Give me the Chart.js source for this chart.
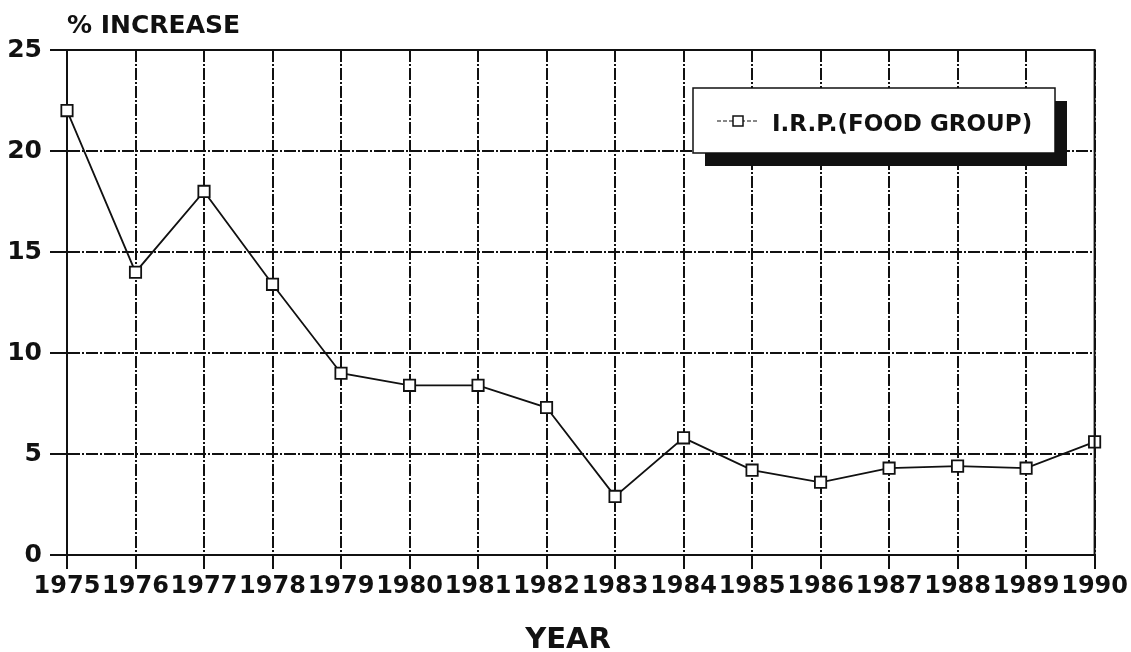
<!DOCTYPE html>
<html lang="en">
<head>
<meta charset="UTF-8">
<title>I.R.P. (Food Group) % increase</title>
<script src="https://cdn.jsdelivr.net/npm/chart.js"></script>
<style>
    html, body { margin: 0; padding: 0; background: #ffffff; }
    #wrap { position: relative; width: 1131px; height: 652px; }
</style>
</head>
<body>
<div id="wrap"><canvas id="irpChart"></canvas></div>
<script>
    // data
    const years = ['1975', '1976', '1977', '1978', '1979', '1980', '1981', '1982',
                   '1983', '1984', '1985', '1986', '1987', '1988', '1989', '1990'];
    const irpFood = [22.0, 14.0, 18.0, 13.4, 9.0, 8.4, 8.4, 7.3,
                     2.9, 5.8, 4.2, 3.6, 4.3, 4.4, 4.3, 5.6];
    const yTicks = [0, 5, 10, 15, 20, 25];
    const seriesLabel = 'I.R.P.(FOOD GROUP)';

    const FONT = "'DejaVu Sans', sans-serif";
    const INK = '#111111';

    // titles, frame and the boxed legend with its drop shadow
    const decorPlugin = {
        id: 'decor',
        afterDatasetsDraw(chart) {
            const { ctx, chartArea: a } = chart;
            ctx.save();
            // solid top and right frame
            ctx.strokeStyle = INK;
            ctx.lineWidth = 2;
            ctx.beginPath();
            ctx.moveTo(a.left, a.top);
            ctx.lineTo(a.right, a.top);
            ctx.lineTo(a.right, a.bottom);
            ctx.stroke();

            // legend box
            const bx = 693, by = 88, bw = 362, bh = 65;
            ctx.fillStyle = INK;
            ctx.fillRect(bx + 12, by + 13, bw, bh);
            ctx.fillStyle = '#ffffff';
            ctx.fillRect(bx, by, bw, bh);
            ctx.lineWidth = 1.5;
            ctx.strokeRect(bx, by, bw, bh);

            // legend sample: dashed line with square marker
            const ly = by + 33;
            ctx.setLineDash([4, 2]);
            ctx.lineWidth = 1.2;
            ctx.beginPath();
            ctx.moveTo(bx + 24, ly);
            ctx.lineTo(bx + 66, ly);
            ctx.stroke();
            ctx.setLineDash([]);
            ctx.fillStyle = '#ffffff';
            ctx.fillRect(bx + 40, ly - 5, 10, 10);
            ctx.lineWidth = 1.5;
            ctx.strokeRect(bx + 40, ly - 5, 10, 10);

            ctx.fillStyle = INK;
            ctx.font = 'bold 23px ' + FONT;
            ctx.textBaseline = 'middle';
            ctx.textAlign = 'left';
            ctx.fillText(seriesLabel, bx + 79, ly + 4);

            // axis titles
            ctx.font = 'bold 25px ' + FONT;
            ctx.textBaseline = 'alphabetic';
            ctx.fillText('% INCREASE', 67, 33);
            ctx.font = 'bold 29px ' + FONT;
            ctx.textAlign = 'center';
            ctx.fillText('YEAR', 568, 648);
            ctx.restore();
        }
    };

    const ctx = document.getElementById('irpChart').getContext('2d');
    new Chart(ctx, {
        type: 'line',
        data: {
            labels: years,
            datasets: [{
                label: seriesLabel,
                data: irpFood,
                borderColor: INK,
                borderWidth: 1.8,
                tension: 0,
                fill: false,
                pointStyle: 'rect',
                pointRadius: 8,
                pointBorderWidth: 1.8,
                pointBackgroundColor: '#ffffff',
                pointBorderColor: INK
            }]
        },
        options: {
            responsive: true,
            maintainAspectRatio: false,
            animation: false,
            layout: { padding: { top: 50, right: 34, left: 0, bottom: 0 } },
            plugins: {
                legend: { display: false },
                tooltip: { enabled: false }
            },
            scales: {
                x: {
                    offset: false,
                    grid: {
                        offset: false,
                        color: INK,
                        lineWidth: 2,
                        tickLength: 14,
                        tickColor: INK,
                        tickWidth: 2
                    },
                    border: { display: true, color: INK, width: 2, dash: [12, 2, 2, 2] },
                    ticks: {
                        color: INK,
                        padding: 3,
                        autoSkip: false,
                        maxRotation: 0,
                        font: { family: FONT, size: 24, weight: 'bold' }
                    },
                    afterFit(scale) { scale.height = 652 - 555; }
                },
                y: {
                    min: 0,
                    max: 25,
                    afterBuildTicks(scale) { scale.ticks = yTicks.map(v => ({ value: v })); },
                    grid: {
                        color: INK,
                        lineWidth: 2,
                        tickLength: 17,
                        tickColor: INK,
                        tickWidth: 2
                    },
                    border: { display: true, color: INK, width: 2, dash: [12, 2, 2, 2] },
                    ticks: {
                        color: INK,
                        padding: 8,
                        font: { family: FONT, size: 25, weight: 'bold' }
                    },
                    afterFit(scale) { scale.width = 67; }
                }
            }
        },
        plugins: [decorPlugin]
    });
</script>
</body>
</html>
